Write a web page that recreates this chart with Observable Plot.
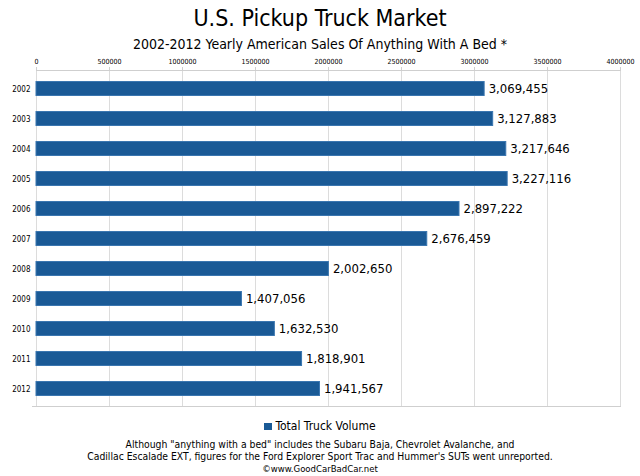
<!DOCTYPE html>
<html>
<head>
<meta charset="utf-8">
<script src="https://cdn.jsdelivr.net/npm/d3@7"></script>
<script src="https://cdn.jsdelivr.net/npm/@observablehq/plot@0.6"></script>
<style>
  html, body { margin: 0; padding: 0; background: #fff; }
  body { width: 640px; height: 476px; overflow: hidden; font-family: "DejaVu Sans Condensed", "DejaVu Sans", sans-serif; color: #000; }
  #title { position: absolute; left: 0; width: 640px; top: 5px; text-align: center; font-size: 23px; line-height: 26px; }
  #subtitle { position: absolute; left: 0; width: 640px; top: 35px; text-align: center; font-size: 14px; line-height: 18px; }
  #chart { position: absolute; left: 0; top: 52px; }
  #legend { position: absolute; left: 0; width: 640px; top: 418px; text-align: center; font-size: 12px; line-height: 16px; }
  #legend .sw { display: inline-block; width: 8px; height: 7px; background: #1a5a96; margin-right: 3px; vertical-align: 0px; }
  #caption { position: absolute; left: 0; width: 640px; top: 438px; text-align: center; font-size: 10.3px; line-height: 12px; }
  #caption .c { font-size: 9.5px; }
</style>
</head>
<body>
<div id="title">U.S. Pickup Truck Market</div>
<div id="subtitle">2002-2012 Yearly American Sales Of Anything With A Bed *</div>
<div id="chart"></div>
<div id="legend"><span class="sw"></span>Total Truck Volume</div>
<div id="caption">Although "anything with a bed" includes the Subaru Baja, Chevrolet Avalanche, and<br>Cadillac Escalade EXT, figures for the Ford Explorer Sport Trac and Hummer's SUTs went unreported.<br><span class="c">©www.GoodCarBadCar.net</span></div>
<script>
const years = ["2002","2003","2004","2005","2006","2007","2008","2009","2010","2011","2012"];
const volumes = [3069455, 3127883, 3217646, 3227116, 2897222, 2676459, 2002650, 1407056, 1632530, 1818901, 1941567];
const xTicks = [0, 500000, 1000000, 1500000, 2000000, 2500000, 3000000, 3500000, 4000000];

const data = years.map((y, i) => ({year: y, volume: volumes[i]}));

const chart = Plot.plot({
  width: 640,
  height: 358,
  marginLeft: 36,
  marginRight: 20,
  marginTop: 18,
  marginBottom: 4,
  style: { fontFamily: "'DejaVu Sans Condensed', 'DejaVu Sans', sans-serif", background: "#fff", overflow: "visible" },
  x: { domain: [0, 4000000], axis: null, label: null },
  y: { domain: years, paddingInner: 0.5, paddingOuter: 0.25, label: null, axis: null },
  marks: [
    Plot.gridX(xTicks, { stroke: "#dcdcdc", strokeOpacity: 1, strokeWidth: 1 }),
    Plot.frame({ anchor: "top", stroke: "#cfcfcf" }),
    Plot.frame({ anchor: "bottom", stroke: "#cfcfcf", insetLeft: -4 }),
    Plot.axisX(xTicks, { anchor: "top", tickFormat: d3.format("d"), tickSize: 4, tickPadding: 3, fontSize: 7, stroke: "#cfcfcf", fill: "#000", label: null }),
    Plot.axisY({ anchor: "left", tickSize: 0, tickPadding: 6, fontSize: 8, fill: "#000", label: null }),
    Plot.barX(data, { x: "volume", y: "year", fill: "#1a5a96", stroke: "#3a76b0", strokeWidth: 1, insetTop: 0.5, insetBottom: 0.5 }),
    Plot.text(data, { x: "volume", y: "year", text: d => d3.format(",")(d.volume), dx: 4, textAnchor: "start", fontSize: 13, fill: "#000" })
  ]
});
document.getElementById("chart").appendChild(chart);
</script>
</body>
</html>
